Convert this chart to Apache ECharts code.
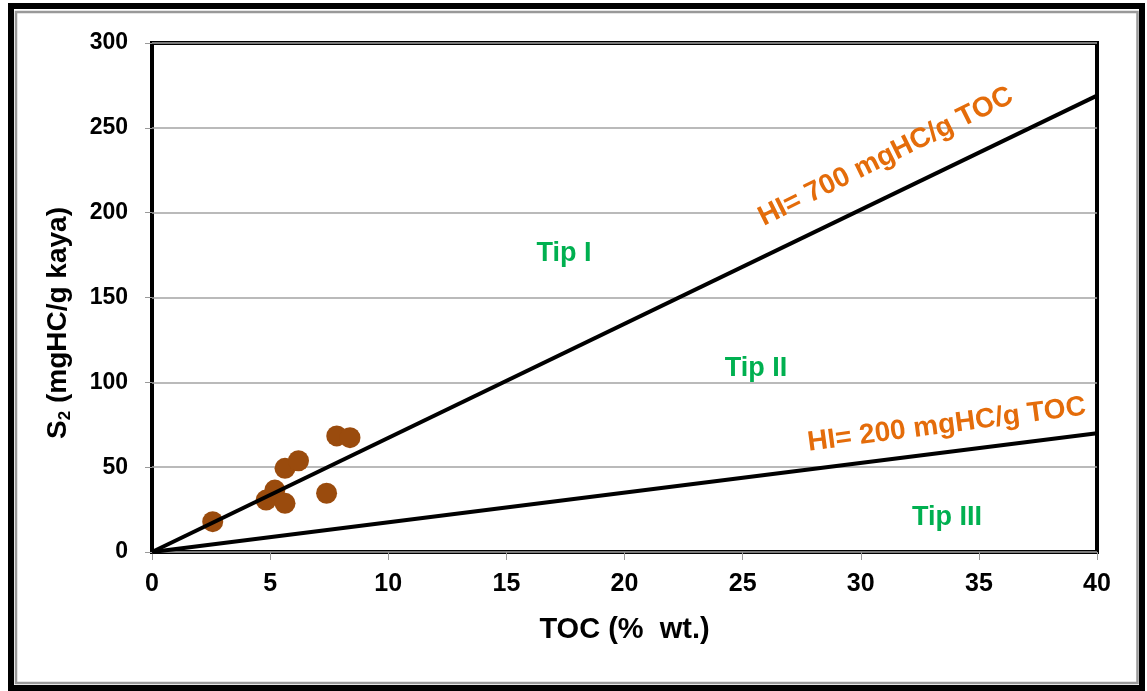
<!DOCTYPE html>
<html>
<head>
<meta charset="utf-8">
<script src="https://cdn.jsdelivr.net/npm/echarts@6/dist/echarts.min.js"></script>
<style>
html,body{margin:0;padding:0;background:#fff;}
#chart{width:1147px;height:691px;}
</style>
</head>
<body>
<div id="chart"></div>
<script>
// ---- data ----
const tocValues = [2.57, 4.83, 5.2, 5.63, 5.63, 6.2, 7.39, 7.82, 8.38];
const s2Values  = [17.9, 30.6, 36.5, 28.7, 49.3, 53.8, 34.6, 68.4, 67.4];
const hi700Line = [[0, 0], [40, 269]];
const hi200Line = [[0, 0], [40, 70]];
const typeNames = ['Tip I', 'Tip II', 'Tip III'];
const hiNames = ['HI= 700 mgHC/g TOC', 'HI= 200 mgHC/g TOC'];
const xTitle = 'TOC (%  wt.)';
const yTitleMain = 'S';
const yTitleSub = '2';
const yTitleRest = ' (mgHC/g kaya)';

// annotation anchor points (data coordinates)
const typeAnchors = [[17.44, 176.0], [25.57, 108.0], [33.65, 20.3]];
const hiAnchors = [[31.06, 233.0], [33.64, 74.9]];

const FONT = '"Liberation Sans", Arial, sans-serif';
const chart = echarts.init(document.getElementById('chart'));

const option = {
  backgroundColor: '#fff',
  animation: false,
  grid: { left: 152, right: 50, top: 43, bottom: 139, show: true, borderColor: '#000', borderWidth: 4, backgroundColor: 'transparent' },
  xAxis: {
    type: 'value', min: 0, max: 40, interval: 5,
    name: xTitle, nameLocation: 'middle', nameGap: 63,
    nameTextStyle: { fontFamily: FONT, fontSize: 29, fontWeight: 'bold', color: '#000' },
    axisLine: { show: false },
    axisTick: { show: true, inside: false, length: 8, lineStyle: { color: '#999', width: 1 } },
    axisLabel: { fontFamily: FONT, fontSize: 25, fontWeight: 'bold', color: '#000', margin: 20 },
    splitLine: { show: false }
  },
  yAxis: {
    type: 'value', min: 0, max: 300, interval: 50,
    axisLine: { show: false },
    axisTick: { show: true, inside: false, length: 7, lineStyle: { color: '#999', width: 1 } },
    axisLabel: { fontFamily: FONT, fontSize: 23, fontWeight: 'bold', color: '#000', margin: 24 },
    splitLine: { show: true, lineStyle: { color: '#a3a3a3', width: 1.5 } }
  },
  graphic: [
    { type: 'rect', shape: { x: 11, y: 6, width: 1131, height: 682 }, style: { fill: 'none', stroke: '#000', lineWidth: 6 }, z: 100 },
    { type: 'rect', shape: { x: 16, y: 12, width: 1121.5, height: 671 }, style: { fill: 'none', stroke: '#999', lineWidth: 2.5 }, z: 100 },
    {
      type: 'text', x: 58, y: 323, rotation: Math.PI / 2, z: 100,
      style: {
        text: '{m|' + yTitleMain + '}{s|' + yTitleSub + '}{m|' + yTitleRest + '}',
        align: 'center', verticalAlign: 'middle',
        rich: {
          m: { fontFamily: FONT, fontSize: 28, fontWeight: 'bold', fill: '#000', color: '#000' },
          s: { fontFamily: FONT, fontSize: 17, fontWeight: 'bold', fill: '#000', color: '#000', padding: [14, 0, 0, 0] }
        }
      }
    }
  ],
  series: [
    {
      type: 'scatter', z: 2,
      data: tocValues.map((v, i) => [v, s2Values[i]]),
      symbol: 'circle', symbolSize: 21,
      itemStyle: { color: '#9a4b0d', opacity: 1 }
    },
    {
      type: 'line', z: 3, data: hi700Line, showSymbol: false, symbol: 'none',
      lineStyle: { color: '#000', width: 4 }
    },
    {
      type: 'line', z: 3, data: hi200Line, showSymbol: false, symbol: 'none',
      lineStyle: { color: '#000', width: 4 }
    },
    {
      type: 'scatter', z: 4, symbolSize: 0, silent: true,
      itemStyle: { opacity: 1 },
      data: typeAnchors.map((p, i) => ({ value: p, name: typeNames[i] })),
      label: { show: true, position: 'inside', formatter: '{b}', fontFamily: FONT, fontSize: 27, fontWeight: 'bold', color: '#00b050', opacity: 1, textBorderWidth: 0, textShadowBlur: 0 }
    },
    {
      type: 'scatter', z: 4, symbolSize: 0, silent: true,
      itemStyle: { opacity: 1 },
      data: hiAnchors.map((p, i) => ({ value: p, name: hiNames[i], label: { rotate: i === 0 ? 26.4 : 7.5 } })),
      label: { show: true, position: 'inside', formatter: '{b}', fontFamily: FONT, fontSize: 28, fontWeight: 'bold', color: '#e46c0a', opacity: 1, textBorderWidth: 0, textShadowBlur: 0 }
    }
  ]
};
chart.setOption(option);
</script>
</body>
</html>
